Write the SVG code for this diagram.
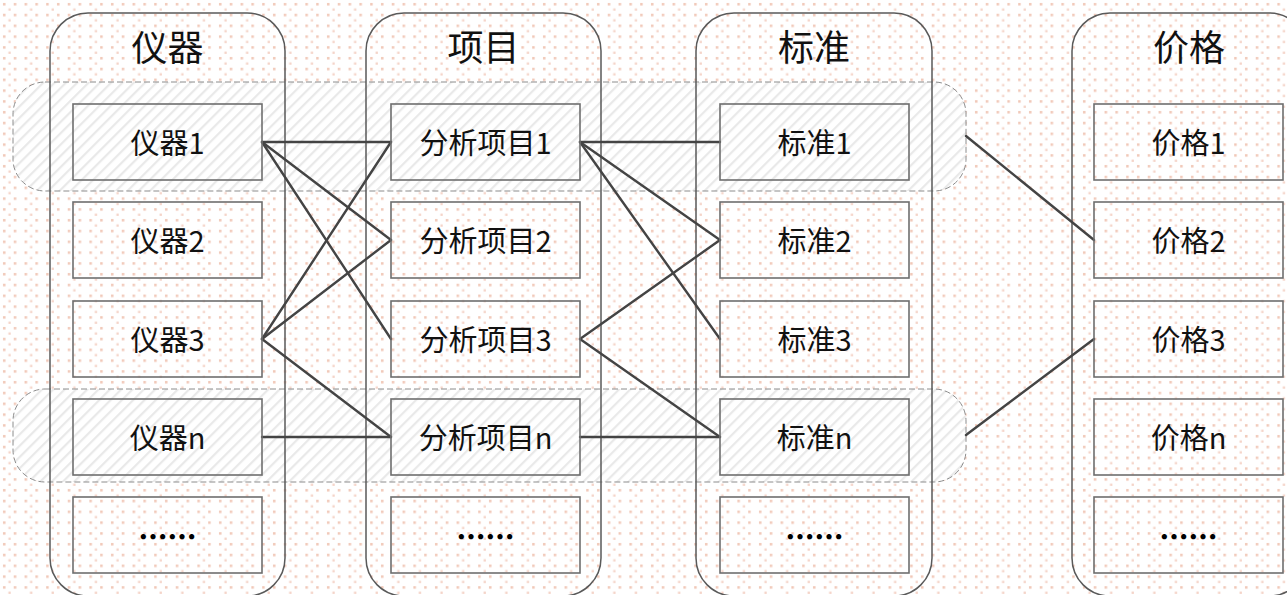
<svg xmlns="http://www.w3.org/2000/svg" width="1287" height="595" viewBox="0 0 1287 595">
<style>
.col{fill:none;stroke:#5a5a5a;stroke-width:1.5}
.band{fill:url(#hatch);stroke:#8c8c8c;stroke-width:1;stroke-dasharray:6 3}
.box{fill:none;stroke:#6e6e6e;stroke-width:1.6}
.title{font-family:"Noto Sans CJK SC","Noto Sans",sans-serif;font-size:36px;fill:#111;text-anchor:middle}
.lbl{font-family:"Noto Sans CJK SC","Noto Sans",sans-serif;font-size:29px;fill:#111;text-anchor:middle}
.dots{font-family:"Noto Sans CJK SC",sans-serif;font-size:29px;font-weight:900;fill:#000;text-anchor:middle}
.conn line{stroke:#444;stroke-width:2.4;stroke-linecap:round}
</style>
<defs>
<pattern id="dots" width="21.6" height="10.8" patternUnits="userSpaceOnUse">
<rect x="3" y="3" width="2.5" height="2.5" fill="#f1c7b7"/>
<rect x="13.8" y="3" width="2.5" height="2.5" fill="#f1c7b7"/>
<rect x="8.4" y="8.4" width="2.3" height="2.3" fill="#f4d3c7"/>
</pattern>
<pattern id="hatch" width="8" height="8" patternUnits="userSpaceOnUse" patternTransform="rotate(45)">
<rect width="8" height="8" fill="#ffffff"/>
<rect x="0" y="0" width="2.2" height="8" fill="#e9e9e9"/>
</pattern>
</defs>
<rect width="1287" height="595" fill="#ffffff"/>
<rect width="1287" height="595" fill="url(#dots)"/>
<g id="bands">
<rect id="band1" class="band" x="13" y="82" width="953" height="109" rx="32" ry="32"/>
<rect id="bandn" class="band" x="13" y="389" width="953" height="93" rx="32" ry="32"/>
</g>
<g id="col-instrument">
<rect class="col" x="50" y="13" width="235" height="583" rx="38" ry="38"/>
<text class="title" x="167.5" y="61">仪器</text>
</g>
<g id="col-item">
<rect class="col" x="366" y="13" width="235" height="583" rx="38" ry="38"/>
<text class="title" x="483.5" y="61">项目</text>
</g>
<g id="col-standard">
<rect class="col" x="696" y="13" width="236" height="583" rx="38" ry="38"/>
<text class="title" x="814" y="61">标准</text>
</g>
<g id="col-price">
<rect class="col" x="1072" y="13" width="235" height="583" rx="38" ry="38"/>
<text class="title" x="1189" y="61">价格</text>
</g>
<g id="connectors" class="conn">
<line x1="262" y1="142" x2="391" y2="142"/>
<line x1="262" y1="142" x2="391" y2="240"/>
<line x1="262" y1="142" x2="391" y2="339"/>
<line x1="262" y1="339" x2="391" y2="142"/>
<line x1="262" y1="339" x2="391" y2="240"/>
<line x1="262" y1="339" x2="391" y2="437"/>
<line x1="262" y1="437" x2="391" y2="437"/>
<line x1="580" y1="142" x2="720" y2="142"/>
<line x1="580" y1="142" x2="720" y2="240"/>
<line x1="580" y1="142" x2="720" y2="339"/>
<line x1="580" y1="339" x2="720" y2="240"/>
<line x1="580" y1="339" x2="720" y2="437"/>
<line x1="580" y1="437" x2="720" y2="437"/>
<line x1="966" y1="136" x2="1094" y2="240"/>
<line x1="966" y1="435" x2="1094" y2="339"/>
</g>
<g id="n-yq1"><rect class="box" x="73" y="104" width="189" height="76"/><text class="lbl" x="167.5" y="154">仪器1</text></g>
<g id="n-yq2"><rect class="box" x="73" y="202" width="189" height="76"/><text class="lbl" x="167.5" y="252">仪器2</text></g>
<g id="n-yq3"><rect class="box" x="73" y="301" width="189" height="76"/><text class="lbl" x="167.5" y="351">仪器3</text></g>
<g id="n-yqn"><rect class="box" x="73" y="399" width="189" height="76"/><text class="lbl" x="167.5" y="449">仪器n</text></g>
<g id="n-yqx"><rect class="box" x="73" y="497" width="189" height="76"/><text class="dots" x="167.5" y="548">……</text></g>
<g id="n-xm1"><rect class="box" x="391" y="104" width="189" height="76"/><text class="lbl" x="485.5" y="154">分析项目1</text></g>
<g id="n-xm2"><rect class="box" x="391" y="202" width="189" height="76"/><text class="lbl" x="485.5" y="252">分析项目2</text></g>
<g id="n-xm3"><rect class="box" x="391" y="301" width="189" height="76"/><text class="lbl" x="485.5" y="351">分析项目3</text></g>
<g id="n-xmn"><rect class="box" x="391" y="399" width="189" height="76"/><text class="lbl" x="485.5" y="449">分析项目n</text></g>
<g id="n-xmx"><rect class="box" x="391" y="497" width="189" height="76"/><text class="dots" x="485.5" y="548">……</text></g>
<g id="n-bz1"><rect class="box" x="720" y="104" width="189" height="76"/><text class="lbl" x="814.5" y="154">标准1</text></g>
<g id="n-bz2"><rect class="box" x="720" y="202" width="189" height="76"/><text class="lbl" x="814.5" y="252">标准2</text></g>
<g id="n-bz3"><rect class="box" x="720" y="301" width="189" height="76"/><text class="lbl" x="814.5" y="351">标准3</text></g>
<g id="n-bzn"><rect class="box" x="720" y="399" width="189" height="76"/><text class="lbl" x="814.5" y="449">标准n</text></g>
<g id="n-bzx"><rect class="box" x="720" y="497" width="189" height="76"/><text class="dots" x="814.5" y="548">……</text></g>
<g id="n-jg1"><rect class="box" x="1094" y="104" width="189" height="76"/><text class="lbl" x="1188.5" y="154">价格1</text></g>
<g id="n-jg2"><rect class="box" x="1094" y="202" width="189" height="76"/><text class="lbl" x="1188.5" y="252">价格2</text></g>
<g id="n-jg3"><rect class="box" x="1094" y="301" width="189" height="76"/><text class="lbl" x="1188.5" y="351">价格3</text></g>
<g id="n-jgn"><rect class="box" x="1094" y="399" width="189" height="76"/><text class="lbl" x="1188.5" y="449">价格n</text></g>
<g id="n-jgx"><rect class="box" x="1094" y="497" width="189" height="76"/><text class="dots" x="1188.5" y="548">……</text></g>
</svg>
